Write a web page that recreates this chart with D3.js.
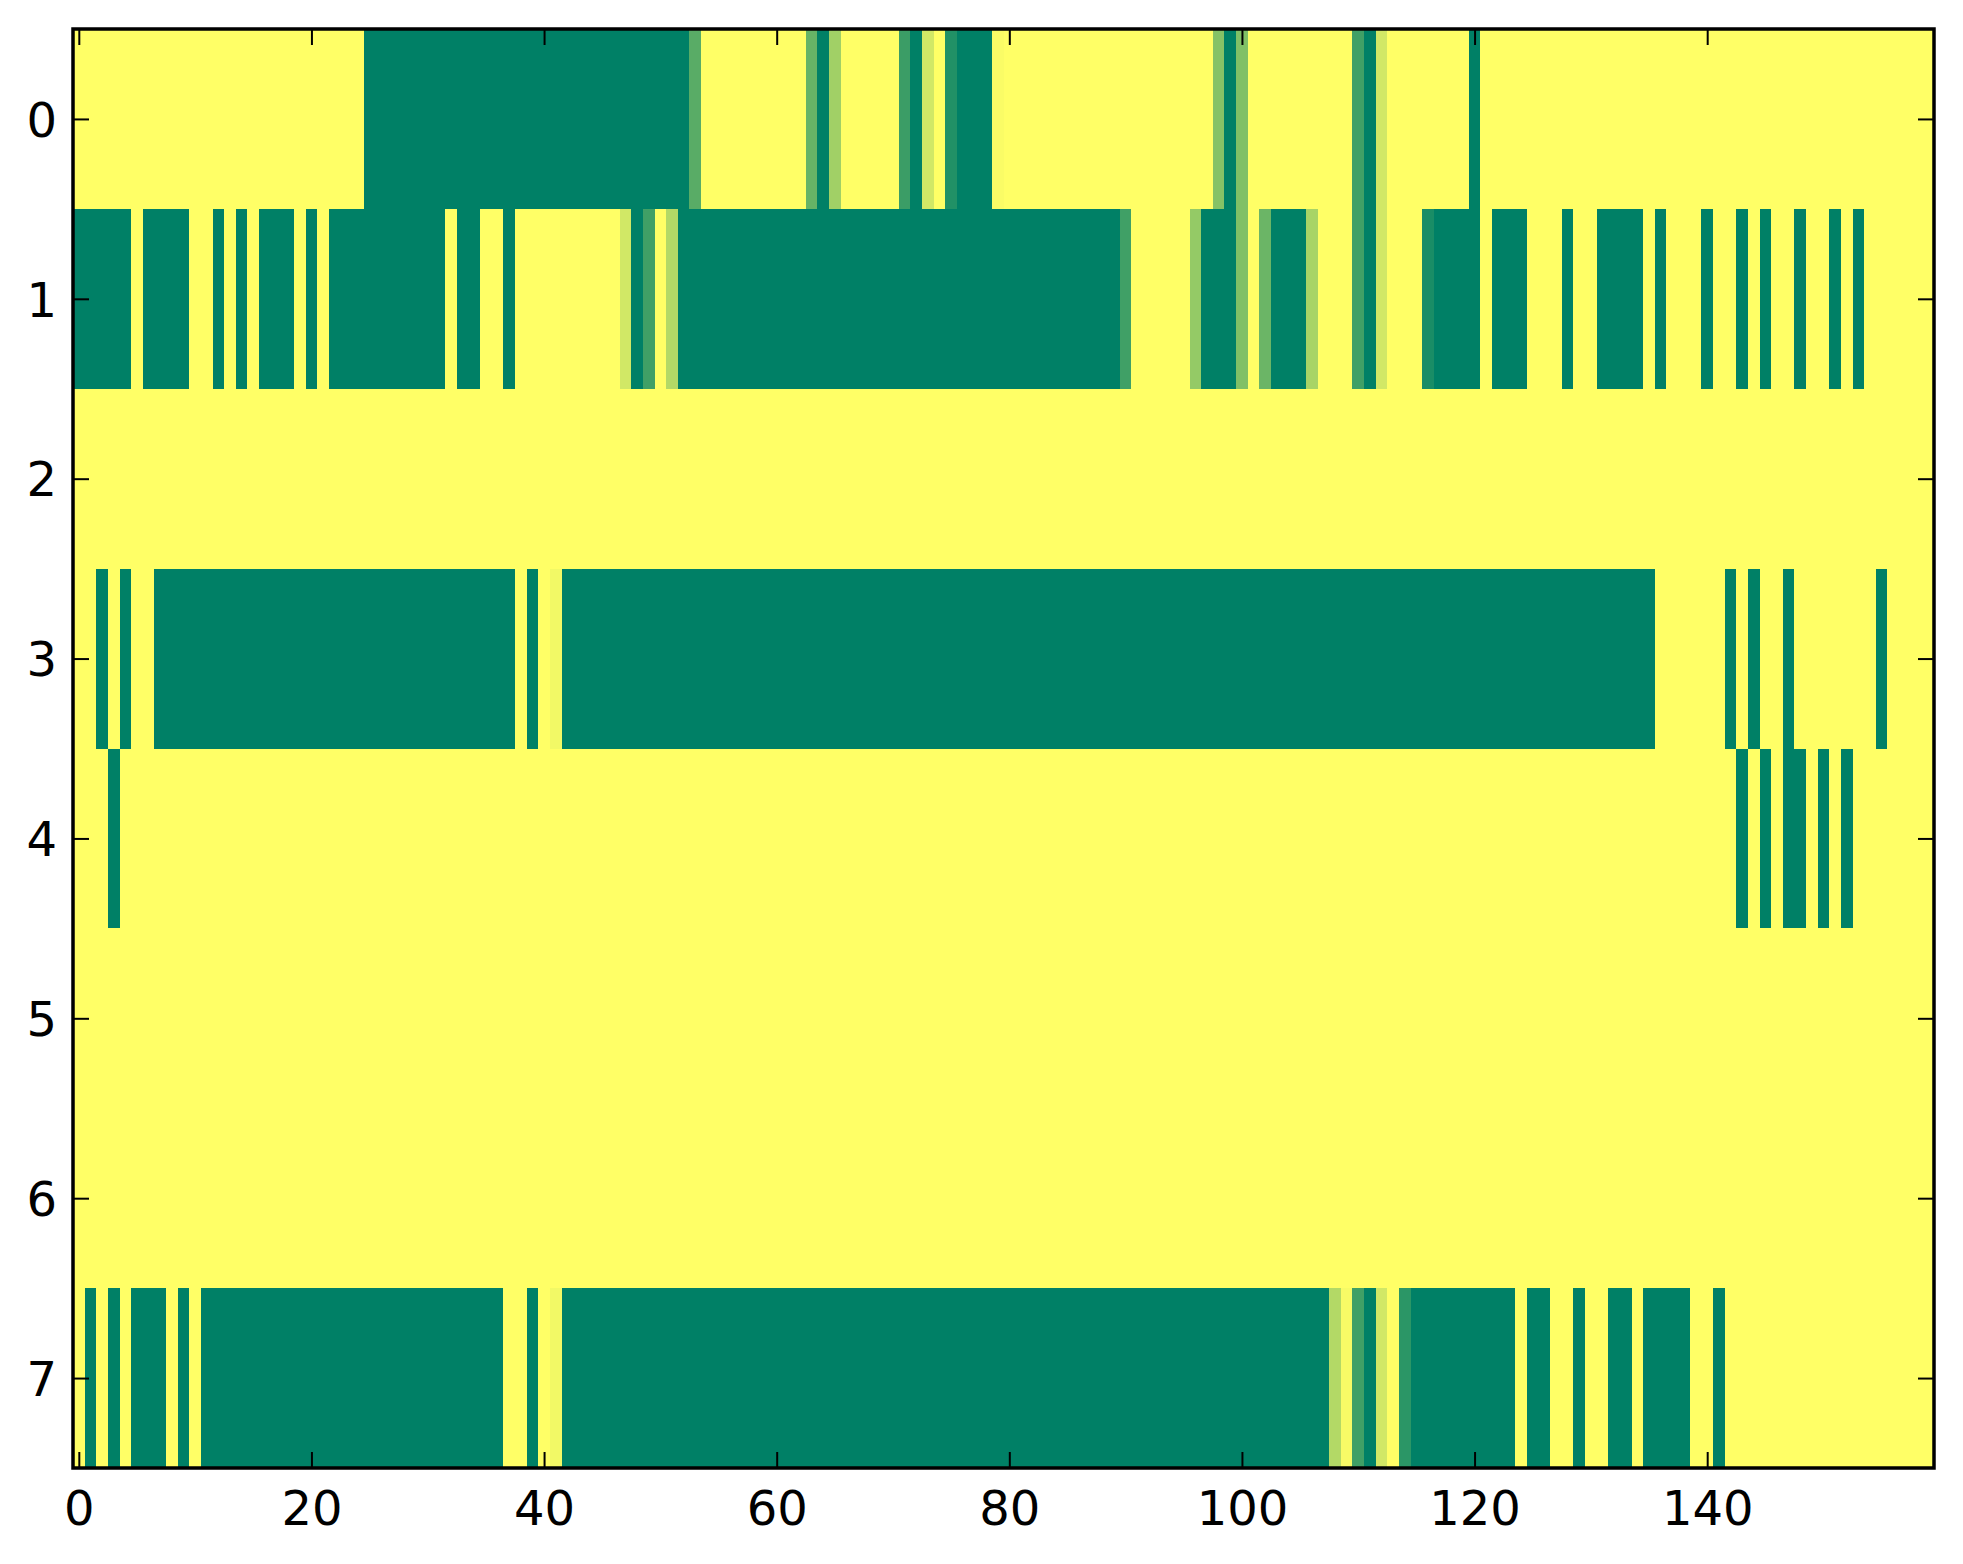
<!DOCTYPE html>
<html>
<head>
<meta charset="utf-8">
<script src="https://cdn.jsdelivr.net/npm/d3@7"></script>
<style>
  html, body { margin: 0; padding: 0; background: #fff; }
  svg { display: block; }
</style>
</head>
<body>
<script>
// ---- data (values 0..1, summer_r colormap) ----
const row0 = [
  0,0,0,0,0,0,0,0,0,0,
  0,0,0,0,0,0,0,0,0,0,
  0,0,0,0,0,1,1,1,1,1,
  1,1,1,1,1,1,1,1,1,1,
  1,1,1,1,1,1,1,1,1,1,
  1,1,1,0.65,0,0,0,0,0,0,
  0,0,0,0.6,1,0.37,0,0,0,0,
  0,0.77,1,0.18,0,0.87,1,1,1,0.02,
  0,0,0,0,0,0,0,0,0,0,
  0,0,0,0,0,0,0,0,0.48,1,
  0.5,0,0,0,0,0,0,0,0,0,
  0.75,1,0.18,0,0,0,0,0,0,0,
  1,0,0,0,0,0,0,0,0,0,
  0,0,0,0,0,0,0,0,0,0,
  0,0,0,0,0,0,0,0,0,0,
  0,0,0,0,0,0,0,0,0,0
];
const row1 = [
  1,1,1,1,1,0,1,1,1,1,
  0,0,1,0,1,0,1,1,1,0,
  1,0,1,1,1,1,1,1,1,1,
  1,1,0,1,1,0,0,1,0,0,
  0,0,0,0,0,0,0,0.18,1,0.75,
  0,0.3,1,1,1,1,1,1,1,1,
  1,1,1,1,1,1,1,1,1,1,
  1,1,1,1,1,1,1,1,1,1,
  1,1,1,1,1,1,1,1,1,1,
  0.75,0,0,0,0,0,0.42,1,1,1,
  0.5,0,0.58,1,1,1,0.34,0,0,0,
  0.75,1,0.18,0,0,0,0.9,1,1,1,
  1,0,1,1,1,0,0,0,1,0,
  0,1,1,1,1,0,1,0,0,0,
  1,0,0,1,0,1,0,0,1,0,
  0,1,0,1,0,0,0,0,0,0
];
const row2 = [
  0,0,0,0,0,0,0,0,0,0,
  0,0,0,0,0,0,0,0,0,0,
  0,0,0,0,0,0,0,0,0,0,
  0,0,0,0,0,0,0,0,0,0,
  0,0,0,0,0,0,0,0,0,0,
  0,0,0,0,0,0,0,0,0,0,
  0,0,0,0,0,0,0,0,0,0,
  0,0,0,0,0,0,0,0,0,0,
  0,0,0,0,0,0,0,0,0,0,
  0,0,0,0,0,0,0,0,0,0,
  0,0,0,0,0,0,0,0,0,0,
  0,0,0,0,0,0,0,0,0,0,
  0,0,0,0,0,0,0,0,0,0,
  0,0,0,0,0,0,0,0,0,0,
  0,0,0,0,0,0,0,0,0,0,
  0,0,0,0,0,0,0,0,0,0
];
const row3 = [
  0,0,1,0,1,0,0,1,1,1,
  1,1,1,1,1,1,1,1,1,1,
  1,1,1,1,1,1,1,1,1,1,
  1,1,1,1,1,1,1,1,0,1,
  0,0.05,1,1,1,1,1,1,1,1,
  1,1,1,1,1,1,1,1,1,1,
  1,1,1,1,1,1,1,1,1,1,
  1,1,1,1,1,1,1,1,1,1,
  1,1,1,1,1,1,1,1,1,1,
  1,1,1,1,1,1,1,1,1,1,
  1,1,1,1,1,1,1,1,1,1,
  1,1,1,1,1,1,1,1,1,1,
  1,1,1,1,1,1,1,1,1,1,
  1,1,1,1,1,1,0,0,0,0,
  0,0,1,0,1,0,0,1,0,0,
  0,0,0,0,0,1,0,0,0,0
];
const row4 = [
  0,0,0,1,0,0,0,0,0,0,
  0,0,0,0,0,0,0,0,0,0,
  0,0,0,0,0,0,0,0,0,0,
  0,0,0,0,0,0,0,0,0,0,
  0,0,0,0,0,0,0,0,0,0,
  0,0,0,0,0,0,0,0,0,0,
  0,0,0,0,0,0,0,0,0,0,
  0,0,0,0,0,0,0,0,0,0,
  0,0,0,0,0,0,0,0,0,0,
  0,0,0,0,0,0,0,0,0,0,
  0,0,0,0,0,0,0,0,0,0,
  0,0,0,0,0,0,0,0,0,0,
  0,0,0,0,0,0,0,0,0,0,
  0,0,0,0,0,0,0,0,0,0,
  0,0,0,1,0,1,0,1,1,0,
  1,0,1,0,0,0,0,0,0,0
];
const row5 = [
  0,0,0,0,0,0,0,0,0,0,
  0,0,0,0,0,0,0,0,0,0,
  0,0,0,0,0,0,0,0,0,0,
  0,0,0,0,0,0,0,0,0,0,
  0,0,0,0,0,0,0,0,0,0,
  0,0,0,0,0,0,0,0,0,0,
  0,0,0,0,0,0,0,0,0,0,
  0,0,0,0,0,0,0,0,0,0,
  0,0,0,0,0,0,0,0,0,0,
  0,0,0,0,0,0,0,0,0,0,
  0,0,0,0,0,0,0,0,0,0,
  0,0,0,0,0,0,0,0,0,0,
  0,0,0,0,0,0,0,0,0,0,
  0,0,0,0,0,0,0,0,0,0,
  0,0,0,0,0,0,0,0,0,0,
  0,0,0,0,0,0,0,0,0,0
];
const row6 = [
  0,0,0,0,0,0,0,0,0,0,
  0,0,0,0,0,0,0,0,0,0,
  0,0,0,0,0,0,0,0,0,0,
  0,0,0,0,0,0,0,0,0,0,
  0,0,0,0,0,0,0,0,0,0,
  0,0,0,0,0,0,0,0,0,0,
  0,0,0,0,0,0,0,0,0,0,
  0,0,0,0,0,0,0,0,0,0,
  0,0,0,0,0,0,0,0,0,0,
  0,0,0,0,0,0,0,0,0,0,
  0,0,0,0,0,0,0,0,0,0,
  0,0,0,0,0,0,0,0,0,0,
  0,0,0,0,0,0,0,0,0,0,
  0,0,0,0,0,0,0,0,0,0,
  0,0,0,0,0,0,0,0,0,0,
  0,0,0,0,0,0,0,0,0,0
];
const row7 = [
  0,1,0,1,0,1,1,1,0,1,
  0,1,1,1,1,1,1,1,1,1,
  1,1,1,1,1,1,1,1,1,1,
  1,1,1,1,1,1,1,0,0,1,
  0,0.05,1,1,1,1,1,1,1,1,
  1,1,1,1,1,1,1,1,1,1,
  1,1,1,1,1,1,1,1,1,1,
  1,1,1,1,1,1,1,1,1,1,
  1,1,1,1,1,1,1,1,1,1,
  1,1,1,1,1,1,1,1,1,1,
  1,1,1,1,1,1,1,1,0.3,0.03,
  0.75,1,0.18,0,0.83,1,1,1,1,1,
  1,1,1,1,0,1,1,0,0,1,
  0,0,1,1,0,1,1,1,1,0,
  0,1,0,0,0,0,0,0,0,0,
  0,0,0,0,0,0,0,0,0,0
];
const rows = [row0, row1, row2, row3, row4, row5, row6, row7];
const xTicks = [0, 20, 40, 60, 80, 100, 120, 140];
const yTicks = [0, 1, 2, 3, 4, 5, 6, 7];

(function () {
  // ---- layout ----
  const W = 1963, H = 1564;
  const pL = 73, pR = 1934, pT = 29, pB = 1468;
  const nCols = row0.length, nRows = rows.length;

  const x = d3.scaleLinear().domain([-0.5, nCols - 0.5]).range([pL, pR]);
  const y = d3.scaleLinear().domain([-0.5, nRows - 0.5]).range([pT, pB]);
  const color = d3.scaleLinear().domain([0, 1])
    .range(["rgb(255,255,102)", "rgb(0,128,102)"])
    .interpolate(d3.interpolateRgb);

  const svg = d3.select("body").append("svg")
    .attr("width", W).attr("height", H)
    .attr("viewBox", `0 0 ${W} ${H}`);
  svg.append("rect").attr("width", W).attr("height", H).attr("fill", "#fff");

  const cells = [];
  rows.forEach((r, ri) => r.forEach((v, ci) => cells.push({ r: ri, c: ci, v })));

  svg.append("g")
    .selectAll("rect")
    .data(cells)
    .join("rect")
    .attr("x", d => x(d.c - 0.5))
    .attr("y", d => y(d.r - 0.5))
    .attr("width", d => x(d.c + 0.5) - x(d.c - 0.5) + 0.6)
    .attr("height", d => y(d.r + 0.5) - y(d.r - 0.5) + 0.6)
    .attr("fill", d => color(d.v))
    .attr("shape-rendering", "crispEdges");

  // ---- axes (classic matplotlib: ticks inside on all sides) ----
  const tickLen = 16, font = "DejaVu Sans, sans-serif", fs = 48;
  const axBottom = d3.axisBottom(x).tickValues(xTicks).tickSize(-tickLen).tickFormat(d3.format("d"));
  const axTop = d3.axisTop(x).tickValues(xTicks).tickSize(-tickLen).tickFormat("");
  const axLeft = d3.axisLeft(y).tickValues(yTicks).tickSize(-tickLen).tickFormat(d3.format("d"));
  const axRight = d3.axisRight(y).tickValues(yTicks).tickSize(-tickLen).tickFormat("");

  function style(g) {
    g.select(".domain").remove();
    g.selectAll(".tick line").attr("stroke", "#000").attr("stroke-width", 2);
    g.selectAll(".tick text").attr("fill", "#000").style("font-family", font).style("font-size", fs + "px");
  }
  svg.append("g").attr("transform", `translate(0,${pB})`).call(axBottom).call(style)
    .selectAll(".tick text").attr("dy", null).attr("y", 57);
  svg.append("g").attr("transform", `translate(0,${pT})`).call(axTop).call(style);
  svg.append("g").attr("transform", `translate(${pL},0)`).call(axLeft).call(style)
    .selectAll(".tick text").attr("dy", "0.36em").attr("x", -16);
  svg.append("g").attr("transform", `translate(${pR},0)`).call(axRight).call(style);

  // frame
  svg.append("rect")
    .attr("x", pL).attr("y", pT)
    .attr("width", pR - pL).attr("height", pB - pT)
    .attr("fill", "none").attr("stroke", "#000").attr("stroke-width", 3.5);
})();
</script>
</body>
</html>
